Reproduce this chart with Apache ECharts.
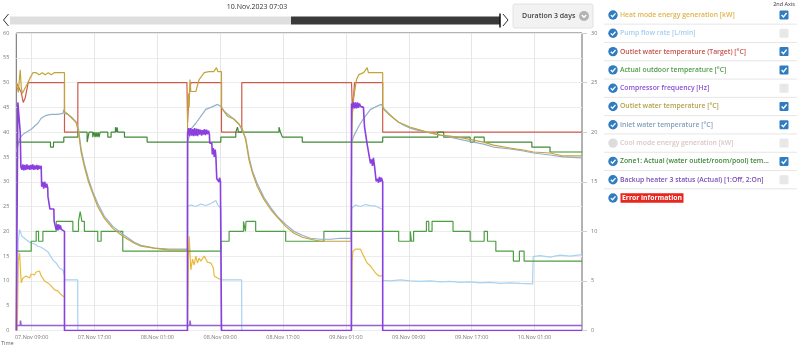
<!DOCTYPE html>
<html>
<head>
<meta charset="utf-8">
<script src="https://cdn.jsdelivr.net/npm/echarts@6/dist/echarts.min.js"></script>
<style>
  html, body { margin: 0; padding: 0; background: #fff; }
  #chart { width: 800px; height: 346px; }
</style>
</head>
<body>
<div id="chart"></div>
<script>
// ---- time range and tick labels ----
const rangeStart = '11-07 07:03';
const rangeEnd = '11-10 07:03';
const xTickTimes = ['11-07 09:00', '11-07 17:00', '11-08 01:00', '11-08 09:00', '11-08 17:00',
                    '11-09 01:00', '11-09 09:00', '11-09 17:00', '11-10 01:00'];
const leftTicks = { min: 0, max: 60, step: 5 };
const rightTicks = { min: 0, max: 30, step: 5 };
const navigatorLabel = '10.Nov.2023 07:03';
const durationLabel = 'Duration 3 days';

// ---- series (time, value) ----
// 2nd axis: heat mode energy [kW]
const heatData = [
  ['11-07 07:11', 0], ['11-07 07:18', 7], ['11-07 07:28', 7.8], ['11-07 07:41', 4.8], ['11-07 07:54', 5.3],
  ['11-07 08:06', 5.1], ['11-07 08:19', 5.5], ['11-07 08:32', 5.4], ['11-07 08:44', 5.3], ['11-07 08:57', 5.7],
  ['11-07 09:10', 5.5], ['11-07 09:22', 5.6], ['11-07 09:35', 5.9], ['11-07 09:48', 5.8], ['11-07 10:00', 6],
  ['11-07 10:13', 5.5], ['11-07 10:39', 5], ['11-07 11:04', 4.8], ['11-07 11:30', 4.5], ['11-07 11:55', 4.1],
  ['11-07 12:20', 4], ['11-07 12:33', 3.8], ['11-07 12:46', 3.6], ['11-07 13:06', 3.4], ['11-07 13:11', 3.4],
  ['11-07 13:12', null],
  ['11-08 04:51', 0], ['11-08 04:57', 7], ['11-08 05:03', 9.5], ['11-08 05:16', 6.1], ['11-08 05:29', 7.2],
  ['11-08 05:41', 6.6], ['11-08 05:54', 7.5], ['11-08 06:07', 6.8], ['11-08 06:19', 7.3], ['11-08 06:32', 7],
  ['11-08 06:58', 7.5], ['11-08 07:23', 6.9], ['11-08 07:49', 6.8], ['11-08 08:08', 6.3], ['11-08 08:14', 5.5],
  ['11-08 08:40', 5.3], ['11-08 09:10', 5.1], ['11-08 09:11', null],
  ['11-09 01:43', 0], ['11-09 01:48', 7], ['11-09 01:54', 8], ['11-09 02:13', 8.2], ['11-09 02:51', 8.2],
  ['11-09 03:04', 8], ['11-09 03:16', 7.5], ['11-09 03:42', 6.8], ['11-09 04:08', 6.5], ['11-09 04:46', 5.8],
  ['11-09 05:11', 5.5], ['11-09 05:41', 5.5]
];

// 1st axis: pump flow rate [L/min]
const pumpData = [
  ['11-07 07:03', 0], ['11-07 07:11', 0], ['11-07 07:18', 18], ['11-07 07:28', 20.4], ['11-07 07:46', 19],
  ['11-07 08:00', 18.6], ['11-07 08:19', 18.3], ['11-07 08:40', 17.9], ['11-07 08:57', 17.6], ['11-07 09:22', 17.5],
  ['11-07 09:48', 17], ['11-07 10:13', 16.8], ['11-07 10:26', 16.6], ['11-07 11:04', 15.9], ['11-07 11:43', 14.2],
  ['11-07 12:08', 13.6], ['11-07 12:33', 12.6], ['11-07 12:59', 12.2], ['11-07 13:11', 11], ['11-07 13:13', 10.2],
  ['11-07 14:52', 10.2], ['11-07 14:53', 0], ['11-08 04:50', 0],
  ['11-08 04:51', 25], ['11-08 05:16', 25.3], ['11-08 05:54', 25], ['11-08 06:32', 25.5], ['11-08 07:10', 25.2],
  ['11-08 07:49', 25.6], ['11-08 08:27', 26.2], ['11-08 08:42', 25.3], ['11-08 09:05', 24.7], ['11-08 09:10', 10.2],
  ['11-08 11:44', 10.2], ['11-08 11:45', 0], ['11-09 01:42', 0],
  ['11-09 01:43', 24.6], ['11-09 02:13', 25.3], ['11-09 02:51', 25], ['11-09 03:30', 25.4], ['11-09 04:08', 25.2],
  ['11-09 04:46', 25.1], ['11-09 05:24', 24.6], ['11-09 05:40', 24.5], ['11-09 05:41', 10.1], ['11-09 06:40', 10],
  ['11-09 07:56', 10.2], ['11-09 09:12', 10], ['11-09 10:28', 9.9], ['11-09 11:44', 10], ['11-09 13:01', 9.8],
  ['11-09 14:17', 9.9], ['11-09 15:33', 9.7], ['11-09 16:49', 9.8], ['11-09 18:05', 9.6], ['11-09 19:22', 9.7],
  ['11-09 20:38', 9.5], ['11-09 21:54', 9.6], ['11-09 23:10', 9.5], ['11-10 00:46', 9.4], ['11-10 00:50', 14.9],
  ['11-10 01:43', 15.1], ['11-10 02:59', 14.8], ['11-10 04:15', 15.2], ['11-10 05:31', 15], ['11-10 07:03', 15.3]
];

// 2nd axis: outlet water temperature target [°C]
const targetData = [
  ['11-07 07:03', 25], ['11-07 07:41', 24], ['11-07 07:56', 23], ['11-07 08:12', 23.5], ['11-07 08:34', 25],
  ['11-07 13:11', 25], ['11-07 13:11', 20], ['11-07 14:53', 20], ['11-07 14:53', 25],
  ['11-08 04:46', 25], ['11-08 04:51', 21], ['11-08 05:01', 23.5], ['11-08 05:16', 25],
  ['11-08 09:10', 25], ['11-08 09:10', 20], ['11-08 11:45', 20], ['11-08 11:45', 25],
  ['11-09 01:43', 25], ['11-09 01:50', 22], ['11-09 02:06', 25],
  ['11-09 05:41', 25], ['11-09 05:41', 20], ['11-10 07:03', 20]
];

// 2nd axis: actual outdoor temperature [°C] (held until next change)
const outdoorData = [
  ['11-07 07:03', 8], ['11-07 08:57', 9], ['11-07 09:35', 10], ['11-07 09:53', 9], ['11-07 10:26', 10],
  ['11-07 12:08', 11], ['11-07 14:15', 10], ['11-07 14:58', 11], ['11-07 15:11', 12], ['11-07 15:24', 11],
  ['11-07 15:43', 10], ['11-07 17:25', 9], ['11-07 17:51', 10], ['11-07 20:36', 8],
  ['11-08 09:05', 9], ['11-08 10:08', 10], ['11-08 11:58', 11], ['11-08 12:13', 10], ['11-08 12:17', 11],
  ['11-08 13:31', 10], ['11-08 17:20', 9], ['11-08 22:12', 10],
  ['11-09 07:43', 9], ['11-09 09:12', 10], ['11-09 09:20', 9], ['11-09 09:37', 10], ['11-09 11:15', 11],
  ['11-09 11:33', 10], ['11-09 11:58', 11], ['11-09 14:38', 10], ['11-09 16:49', 9], ['11-09 18:36', 10],
  ['11-09 19:01', 9], ['11-09 20:05', 8], ['11-09 22:19', 7], ['11-09 23:05', 8], ['11-09 23:41', 7],
  ['11-10 07:03', 7]
];

// 1st axis: compressor frequency [Hz]
const compressorData = [
  ['11-07 07:03', 0], ['11-07 07:13', 0], ['11-07 07:15', 46], ['11-07 07:28', 46], ['11-07 07:33', 40],
  ['11-07 07:38', 33], ['11-07 07:46', 32.4], ['11-07 07:53', 33.5], ['11-07 08:01', 32.3], ['11-07 08:08', 33.4],
  ['11-07 08:16', 32.4], ['11-07 08:24', 33.5], ['11-07 08:31', 32.5], ['11-07 08:39', 33.3], ['11-07 08:46', 32.4],
  ['11-07 08:54', 33.4], ['11-07 09:02', 32.5], ['11-07 09:09', 33.5], ['11-07 09:17', 32.4], ['11-07 09:24', 33.3],
  ['11-07 09:32', 32.5], ['11-07 09:40', 33.4], ['11-07 09:47', 32.4], ['11-07 09:55', 33.3], ['11-07 10:02', 32.6],
  ['11-07 10:13', 33.2], ['11-07 10:17', 29], ['11-07 10:25', 30], ['11-07 10:32', 28.6], ['11-07 10:40', 30],
  ['11-07 10:48', 28.8], ['11-07 10:55', 29.6], ['11-07 11:03', 28.8], ['11-07 11:05', 27], ['11-07 11:18', 27],
  ['11-07 11:20', 24.5], ['11-07 11:50', 24.5], ['11-07 11:52', 22], ['11-07 12:06', 22], ['11-07 12:08', 20.3],
  ['11-07 12:15', 21.4], ['11-07 12:21', 20.2], ['11-07 12:27', 21.4], ['11-07 12:33', 20.4], ['11-07 12:40', 21.2],
  ['11-07 12:46', 20.4], ['11-07 12:54', 20.2], ['11-07 13:11', 20], ['11-07 13:11', 0],
  ['11-08 04:50', 0], ['11-08 04:51', 39.8], ['11-08 04:59', 40.8], ['11-08 05:06', 39.2], ['11-08 05:14', 40.8],
  ['11-08 05:22', 39.3], ['11-08 05:29', 40.6], ['11-08 05:37', 39.2], ['11-08 05:44', 40.8], ['11-08 05:52', 39.3],
  ['11-08 06:00', 40.7], ['11-08 06:07', 39.2], ['11-08 06:15', 40.6], ['11-08 06:22', 39.5], ['11-08 06:30', 40.5],
  ['11-08 06:38', 39.3], ['11-08 06:45', 40.4], ['11-08 06:53', 39.5], ['11-08 07:00', 40.6], ['11-08 07:08', 39.4],
  ['11-08 07:16', 40.5], ['11-08 07:23', 39.6], ['11-08 07:31', 40.3], ['11-08 07:38', 39.5], ['11-08 07:40', 37.8],
  ['11-08 07:56', 37.8], ['11-08 08:00', 35.5], ['11-08 08:07', 36.8], ['11-08 08:15', 35], ['11-08 08:22', 36.5],
  ['11-08 08:27', 35.2], ['11-08 08:34', 30.6], ['11-08 08:50', 30], ['11-08 08:55', 30.8], ['11-08 09:02', 30.1],
  ['11-08 09:10', 30.2], ['11-08 09:10', 0],
  ['11-09 01:42', 0], ['11-09 01:43', 45.8], ['11-09 01:50', 44.8], ['11-09 01:58', 46], ['11-09 02:06', 44.8],
  ['11-09 02:13', 46], ['11-09 02:21', 44.8], ['11-09 02:29', 46], ['11-09 02:36', 44.9], ['11-09 02:44', 45.8],
  ['11-09 02:51', 45.2], ['11-09 03:14', 45], ['11-09 03:22', 41.1], ['11-09 03:33', 41], ['11-09 03:41', 37.8],
  ['11-09 03:52', 37.5], ['11-09 03:59', 35], ['11-09 04:08', 33.7], ['11-09 04:15', 34.5], ['11-09 04:23', 33.2],
  ['11-09 04:30', 34.8], ['11-09 04:38', 33.3], ['11-09 04:46', 33.7], ['11-09 04:51', 30.1], ['11-09 05:01', 30.6],
  ['11-09 05:09', 29.8], ['11-09 05:16', 31], ['11-09 05:24', 30], ['11-09 05:31', 30.8], ['11-09 05:41', 30],
  ['11-09 05:41', 0], ['11-10 07:03', 0]
];

// 2nd axis: outlet water temperature [°C]
const outletData = [
  ['11-07 07:03', 25], ['11-07 07:18', 24], ['11-07 07:33', 26.3], ['11-07 07:41', 24.5], ['11-07 07:49', 23.9],
  ['11-07 08:04', 24], ['11-07 08:32', 25], ['11-07 08:50', 25.5], ['11-07 09:10', 26], ['11-07 09:35', 26],
  ['11-07 09:58', 25.8], ['11-07 10:21', 26], ['11-07 10:44', 25.8], ['11-07 11:07', 26], ['11-07 11:30', 25.8],
  ['11-07 11:52', 26], ['11-07 13:11', 26], ['11-07 13:11', 22.1], ['11-07 13:37', 21.8], ['11-07 14:15', 21.3],
  ['11-07 14:40', 21], ['11-07 14:58', 20], ['11-07 15:18', 18], ['11-07 15:43', 16.5], ['11-07 16:14', 15],
  ['11-07 16:47', 13.8], ['11-07 17:25', 12.5], ['11-07 18:16', 11.3], ['11-07 19:20', 10.3], ['11-07 20:36', 9.5],
  ['11-07 22:04', 8.8], ['11-07 22:55', 8.5], ['11-08 00:37', 8.3], ['11-08 02:31', 8.1], ['11-08 04:50', 8.1],
  ['11-08 04:51', 22], ['11-08 04:57', 23.9], ['11-08 05:03', 22.5], ['11-08 05:09', 25.3], ['11-08 05:16', 24.1],
  ['11-08 05:54', 24.1], ['11-08 06:19', 25.3], ['11-08 06:58', 26], ['11-08 07:33', 26.1], ['11-08 08:11', 26.1],
  ['11-08 08:32', 26.5], ['11-08 08:42', 26.1], ['11-08 09:10', 26.1], ['11-08 09:10', 22.5], ['11-08 09:56', 21.6],
  ['11-08 10:46', 21.3], ['11-08 11:24', 20.8], ['11-08 11:50', 20.3], ['11-08 12:15', 19.2], ['11-08 12:40', 17.2],
  ['11-08 13:06', 15.9], ['11-08 13:44', 14.5], ['11-08 14:35', 13.2], ['11-08 15:26', 12.2], ['11-08 16:17', 11.4],
  ['11-08 17:20', 10.5], ['11-08 18:23', 9.8], ['11-08 19:27', 9.4], ['11-08 20:30', 9.2], ['11-08 21:46', 9],
  ['11-08 23:03', 9], ['11-09 01:41', 9],
  ['11-09 01:43', 18.5], ['11-09 01:50', 22], ['11-09 02:00', 23.5], ['11-09 02:21', 25.3], ['11-09 02:38', 25.8],
  ['11-09 03:16', 26], ['11-09 03:42', 26.5], ['11-09 03:52', 26], ['11-09 04:46', 26], ['11-09 05:41', 26],
  ['11-09 05:41', 22.6], ['11-09 05:49', 22.3], ['11-09 06:27', 21.8], ['11-09 07:05', 21.4], ['11-09 07:43', 21],
  ['11-09 08:21', 20.8], ['11-09 09:12', 20.5], ['11-09 10:03', 20.3], ['11-09 11:20', 20], ['11-09 13:01', 19.7],
  ['11-09 14:17', 19.6], ['11-09 15:08', 19.5], ['11-09 15:58', 19.4], ['11-09 17:15', 19.2], ['11-09 18:31', 19],
  ['11-09 19:47', 18.7], ['11-09 21:54', 18.4], ['11-09 23:36', 18.2], ['11-10 00:52', 18], ['11-10 02:59', 17.9],
  ['11-10 04:40', 17.6], ['11-10 07:03', 17.6]
];

// 2nd axis: inlet water temperature [°C]
const inletData = [
  ['11-07 07:03', 18], ['11-07 07:18', 18.8], ['11-07 07:28', 19.3], ['11-07 07:41', 19.6], ['11-07 08:06', 19.9],
  ['11-07 08:32', 20.1], ['11-07 08:57', 20.3], ['11-07 09:22', 20.6], ['11-07 09:48', 20.9], ['11-07 10:13', 21.4],
  ['11-07 10:52', 21.7], ['11-07 11:30', 21.8], ['11-07 12:21', 21.8], ['11-07 12:59', 21.9], ['11-07 13:06', 22.3],
  ['11-07 13:11', 21.9], ['11-07 13:37', 21.8], ['11-07 14:15', 21.4], ['11-07 14:40', 21], ['11-07 14:58', 20.3],
  ['11-07 15:18', 18.3], ['11-07 15:43', 16.8], ['11-07 16:14', 15.3], ['11-07 16:47', 14], ['11-07 17:25', 12.8],
  ['11-07 18:16', 11.5], ['11-07 19:20', 10.5], ['11-07 20:36', 9.7], ['11-07 22:04', 8.9], ['11-07 22:55', 8.6],
  ['11-08 00:37', 8.3], ['11-08 02:31', 8.2], ['11-08 04:50', 8.2],
  ['11-08 04:51', 18.9], ['11-08 05:16', 20.3], ['11-08 05:54', 20.9], ['11-08 06:32', 21.6], ['11-08 07:10', 22.3],
  ['11-08 07:49', 22.5], ['11-08 08:40', 22.8], ['11-08 09:05', 22.6], ['11-08 09:30', 22.1], ['11-08 10:08', 21.7],
  ['11-08 10:46', 21.3], ['11-08 11:24', 20.8], ['11-08 11:50', 20.1], ['11-08 12:15', 19.4], ['11-08 12:40', 17.5],
  ['11-08 13:06', 16.1], ['11-08 13:44', 14.8], ['11-08 14:35', 13.4], ['11-08 15:26', 12.4], ['11-08 16:17', 11.5],
  ['11-08 17:20', 10.7], ['11-08 18:23', 10], ['11-08 19:27', 9.6], ['11-08 20:30', 9.3], ['11-08 21:46', 9.2],
  ['11-08 23:03', 9.2], ['11-09 00:19', 9.3], ['11-09 01:41', 9.3],
  ['11-09 01:43', 18.9], ['11-09 02:00', 19.6], ['11-09 02:38', 20.6], ['11-09 03:16', 21.4], ['11-09 04:08', 22.3],
  ['11-09 05:11', 22.7], ['11-09 05:31', 22.8], ['11-09 05:49', 22.4], ['11-09 06:27', 21.9], ['11-09 07:05', 21.4],
  ['11-09 07:43', 21], ['11-09 08:21', 20.7], ['11-09 09:12', 20.4], ['11-09 10:03', 20.2], ['11-09 11:20', 20],
  ['11-09 13:01', 19.7], ['11-09 14:17', 19.5], ['11-09 15:58', 19.2], ['11-09 17:15', 19], ['11-09 18:31', 18.8],
  ['11-09 19:47', 18.5], ['11-09 21:54', 18.3], ['11-09 23:36', 18.1], ['11-10 00:52', 17.9], ['11-10 02:59', 17.7],
  ['11-10 04:40', 17.5], ['11-10 07:03', 17.4]
];

// 2nd axis: zone1 actual temperature [°C] (held until next change)
const zone1Data = [
  ['11-07 07:03', 19], ['11-07 11:24', 18.5], ['11-07 11:47', 19], ['11-07 13:06', 19.5], ['11-07 14:53', 20],
  ['11-07 16:04', 19], ['11-07 16:19', 20], ['11-07 16:47', 19.5], ['11-07 16:57', 20], ['11-07 17:05', 19.5],
  ['11-07 17:12', 20], ['11-07 17:20', 19.5], ['11-07 17:28', 20], ['11-07 17:35', 19.5], ['11-07 17:43', 20],
  ['11-07 18:42', 19.5], ['11-07 19:07', 20], ['11-07 19:40', 20.5], ['11-07 19:49', 20], ['11-07 19:53', 20.5],
  ['11-07 19:58', 20], ['11-07 20:49', 19.5], ['11-07 23:42', 19],
  ['11-08 09:05', 19.5], ['11-08 10:59', 20], ['11-08 11:12', 20.5], ['11-08 11:20', 20], ['11-08 16:29', 20.5],
  ['11-08 16:40', 20], ['11-08 16:55', 19.5], ['11-08 19:27', 19],
  ['11-09 05:41', 19.5], ['11-09 12:41', 20], ['11-09 13:27', 19.5], ['11-09 16:49', 19], ['11-09 17:20', 19.5],
  ['11-09 18:36', 19], ['11-10 00:40', 18.5], ['11-10 02:59', 18], ['11-10 07:03', 18]
];

// 1st axis: backup heater 3 status (1: Off, 2: On)
const backupData = [
  ['11-07 07:03', 1], ['11-07 07:33', 1], ['11-07 07:35', 2], ['11-07 07:38', 2], ['11-07 07:40', 1],
  ['11-08 05:08', 1], ['11-08 05:10', 2], ['11-08 05:13', 2], ['11-08 05:15', 1], ['11-10 07:03', 1]
];

// ---- legend panel ----
const legendNames = [
  'Heat mode energy generation [kW]',
  'Pump flow rate [L/min]',
  'Outlet water temperature (Target) [°C]',
  'Actual outdoor temperature [°C]',
  'Compressor frequency [Hz]',
  'Outlet water temperature [°C]',
  'Inlet water temperature [°C]',
  'Cool mode energy generation [kW]',
  'Zone1: Actual (water outlet/room/pool) tem...',
  'Backup heater 3 status (Actual) [1:Off, 2:On]',
  'Error information'
];
const legendTextColors = ['#e0b34a', '#a6cdec', '#c4524a', '#4f9a47', '#8a4fd2', '#b3a047',
                          '#7f9dbc', '#dbc6c6', '#3e8638', '#7b4db6', '#ffffff'];
const legendEnabled = [true, true, true, true, true, true, true, false, true, true, true];
const legendSecondAxis = [true, false, true, true, false, true, true, false, true, false, null];

const FONT = '"Open Sans", "Noto Sans", sans-serif';
const pad = n => (n < 10 ? '0' : '') + n;
const MONTHS = ['Jan', 'Feb', 'Mar', 'Apr', 'May', 'Jun', 'Jul', 'Aug', 'Sep', 'Oct', 'Nov', 'Dec'];
// 'MM-DD HH:mm' (year 2023) -> epoch milliseconds
function stamp(s) {
  const [md, hm] = s.split(' ');
  const [mo, da] = md.split('-').map(Number);
  const [h, m] = hm.split(':').map(Number);
  return new Date(2023, mo - 1, da, h, m).getTime();
}
const toSeries = arr => arr.map(([d, v]) => [stamp(d), v]);
const tickStamps = xTickTimes.map(stamp);
const fmtTime = v => { const d = new Date(v); return pad(d.getDate()) + '.' + MONTHS[d.getMonth()] + ' ' + pad(d.getHours()) + ':' + pad(d.getMinutes()); };

function line(name, data, color, axis, opts) {
  return Object.assign({
    name, type: 'line', data: toSeries(data), yAxisIndex: axis,
    showSymbol: false, symbol: 'none', silent: true, animation: false,
    lineStyle: { color, width: 1.2 }, itemStyle: { color }
  }, opts || {});
}

// legend panel graphics
const panel = [];
const rowY0 = 15, rowH = 18.3;
panel.push({ type: 'text', x: 784, y: 4, style: { text: '2nd Axis', fontSize: 5.5, fontFamily: FONT, fill: '#333', align: 'center', verticalAlign: 'middle' } });
legendNames.forEach((name, i) => {
  const cy = rowY0 + i * rowH;
  panel.push({ type: 'circle', shape: { cx: 613, cy, r: 4.7 }, style: { fill: legendEnabled[i] ? '#2f7cc1' : '#dcdcdc' } });
  if (legendEnabled[i]) {
    panel.push({ type: 'polyline', shape: { points: [[610.8, cy + 0.1], [612.5, cy + 1.8], [615.5, cy - 1.6]] },
      style: { stroke: '#fff', lineWidth: 1.3, fill: null } });
  }
  const isError = i === legendNames.length - 1;
  panel.push({ type: 'text', x: isError ? 620.5 : 620, y: cy, style: Object.assign({
    text: name, fontSize: 6.8, fontFamily: FONT, fontWeight: isError ? 'bold' : 600,
    fill: legendTextColors[i], align: 'left', verticalAlign: 'middle' },
    isError ? { backgroundColor: '#e6261f', padding: [1.5, 1.5, 1, 1.5] } : {}) });
  if (legendSecondAxis[i] !== null) {
    const on = legendSecondAxis[i];
    panel.push({ type: 'rect', shape: { x: 779.5, y: cy - 4.5, width: 9, height: 9, r: 1.2 },
      style: { fill: on ? '#2f7cc1' : '#e8e8e8' } });
    if (on) {
      panel.push({ type: 'polyline', shape: { points: [[781.6, cy + 0.1], [783.4, cy + 2], [786.6, cy - 2]] },
        style: { stroke: '#fff', lineWidth: 1.4, fill: null } });
    }
  }
  if (i < legendNames.length - 1) {
    panel.push({ type: 'line', shape: { x1: 604, y1: cy + rowH / 2, x2: 797, y2: cy + rowH / 2 },
      style: { stroke: '#e6e6e6', lineWidth: 1 } });
  }
});

// navigator bar above the plot
const navigator = [
  { type: 'text', x: 257, y: 6.5, style: { text: navigatorLabel, fontSize: 7, fontFamily: FONT, fill: '#333', align: 'center', verticalAlign: 'middle' } },
  { type: 'polyline', shape: { points: [[8.5, 14], [3.5, 20], [8.5, 26]] }, style: { stroke: '#333', lineWidth: 1, fill: null } },
  { type: 'rect', shape: { x: 10, y: 16.5, width: 281, height: 8 }, style: { fill: '#dedede' } },
  { type: 'rect', shape: { x: 291, y: 16.5, width: 209, height: 8 }, style: { fill: '#3a3a3a' } },
  { type: 'line', shape: { x1: 500, y1: 13.5, x2: 500, y2: 27.5 }, style: { stroke: '#111', lineWidth: 1.5 } },
  { type: 'polyline', shape: { points: [[503, 14], [508, 20], [503, 26]] }, style: { stroke: '#333', lineWidth: 1, fill: null } },
  { type: 'rect', shape: { x: 513, y: 4, width: 80, height: 24, r: 2 }, style: { fill: '#f2f2f2', stroke: '#e2e2e2', lineWidth: 1 } },
  { type: 'text', x: 522, y: 16, style: { text: durationLabel, fontSize: 7, fontFamily: FONT, fontWeight: 600, fill: '#444', align: 'left', verticalAlign: 'middle' } },
  { type: 'circle', shape: { cx: 584, cy: 16, r: 5 }, style: { fill: '#b3b3b3' } },
  { type: 'polyline', shape: { points: [[581.8, 15], [584, 17.3], [586.2, 15]] }, style: { stroke: '#fff', lineWidth: 1.3, fill: null } },
  { type: 'text', x: 1, y: 343, style: { text: 'Time', fontSize: 5.5, fontFamily: FONT, fill: '#666', align: 'left', verticalAlign: 'middle' } }
];

const chart = echarts.init(document.getElementById('chart'), null, { renderer: 'canvas' });
chart.setOption({
  animation: false,
  backgroundColor: '#fff',
  grid: { left: 15, right: 218, top: 33, bottom: 15.5, show: true, borderColor: '#666', borderWidth: 1, backgroundColor: 'transparent' },
  xAxis: {
    type: 'value', min: stamp(rangeStart), max: stamp(rangeEnd),
    axisLine: { show: false },
    axisTick: { show: false, customValues: tickStamps },
    axisLabel: { customValues: tickStamps, fontSize: 5.5, fontFamily: FONT, color: '#777', margin: 4, formatter: fmtTime },
    splitLine: { show: true, lineStyle: { color: '#e6e6e6', width: 1 } }
  },
  yAxis: [
    {
      type: 'value', min: leftTicks.min, max: leftTicks.max, interval: leftTicks.step,
      axisLine: { show: false }, axisTick: { show: false },
      axisLabel: { fontSize: 5.5, fontFamily: FONT, color: '#777', margin: 7 },
      splitLine: { show: true, lineStyle: { color: '#ececec', width: 1 } }
    },
    {
      type: 'value', position: 'right', min: rightTicks.min, max: rightTicks.max, interval: rightTicks.step,
      axisLine: { show: false },
      axisTick: { show: true, length: 5, lineStyle: { color: '#cfcfcf' } },
      axisLabel: { fontSize: 5.5, fontFamily: FONT, color: '#777', margin: 9 },
      splitLine: { show: false }
    }
  ],
  graphic: { elements: navigator.concat(panel) },
  series: [
    line('Pump flow rate [L/min]', pumpData, '#a8d2f0', 0),
    line('Heat mode energy generation [kW]', heatData, '#e8bb3f', 1),
    line('Outlet water temperature (Target) [°C]', targetData, '#cd5a4c', 1),
    line('Actual outdoor temperature [°C]', outdoorData, '#4e9e44', 1, { step: 'end' }),
    line('Zone1: Actual (water outlet/room/pool) temperature [°C]', zone1Data, '#3f8a37', 1, { step: 'end' }),
    line('Inlet water temperature [°C]', inletData, '#94b0ca', 1),
    line('Outlet water temperature [°C]', outletData, '#c4a43a', 1),
    line('Backup heater 3 status (Actual) [1:Off, 2:On]', backupData, '#9262d2', 0, { lineStyle: { color: '#9262d2', width: 1.5 } }),
    line('Compressor frequency [Hz]', compressorData, '#8a3fe0', 0, { lineStyle: { color: '#8a3fe0', width: 1.6 } })
  ]
});
</script>
</body>
</html>
